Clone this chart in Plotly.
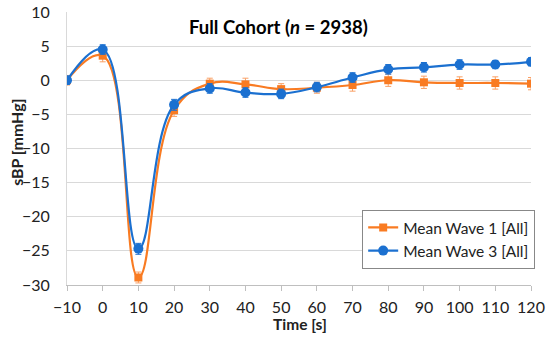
import plotly.graph_objects as go

# time points [s]
time_s = [-10, 0, 10, 20, 30, 40, 50, 60, 70, 80, 90, 100, 110, 120]

# Mean Wave 1 [All]
wave1 = [0.0, 3.6, -28.9, -4.4, -0.5, -0.6, -1.3, -1.1, -0.7, 0.0, -0.3, -0.4, -0.4, -0.5]
wave1_err = [0.7, 0.9, 0.8, 0.9, 0.8, 0.9, 0.8, 0.8, 0.9, 0.9, 0.9, 0.9, 0.9, 0.9]

# Mean Wave 3 [All]
wave3 = [0.0, 4.5, -24.7, -3.6, -1.2, -1.8, -2.0, -1.0, 0.4, 1.6, 1.9, 2.3, 2.3, 2.7]
wave3_err = [0.6, 0.7, 0.8, 0.8, 0.7, 0.7, 0.7, 0.7, 0.7, 0.7, 0.7, 0.7, 0.6, 0.6]

x_ticks = list(range(-10, 121, 10))
y_ticks = list(range(-30, 11, 5))

orange = "#F97B22"
blue = "#1B70D0"
font = "Lato, 'Open Sans', sans-serif"

fig = go.Figure()

fig.add_trace(go.Scatter(
    x=time_s, y=wave1,
    mode="lines+markers",
    name="Mean Wave 1 [All]",
    line=dict(color=orange, width=2.2, shape="spline", smoothing=1.2),
    marker=dict(symbol="square", size=8, color=orange),
    error_y=dict(type="data", array=wave1_err, color="#F9A066", thickness=1, width=3),
))

fig.add_trace(go.Scatter(
    x=time_s, y=wave3,
    mode="lines+markers",
    name="Mean Wave 3 [All]",
    line=dict(color=blue, width=2.2, shape="spline", smoothing=1.2),
    marker=dict(symbol="circle", size=10, color=blue),
    error_y=dict(type="data", array=wave3_err, color=blue, thickness=1, width=3),
))

# titel mit kursivem n
fig.add_annotation(
    text="<b>Full Cohort (<i>n</i> = 2938)</b>",
    xref="paper", yref="paper", x=0.455, y=0.945,
    xanchor="center", yanchor="middle",
    showarrow=False, font=dict(size=18.5, color="black", family=font),
)
# achsentitel als annotationen, damit die plotflaeche fest bleibt
fig.add_annotation(
    text="<b>Time [s]</b>", xref="paper", yref="paper", x=0.502, y=-0.143,
    xanchor="center", yanchor="middle",
    showarrow=False, font=dict(size=15.5, color="#222222"),
)
fig.add_annotation(
    text="<b>sBP [mmHg]</b>", xref="paper", yref="paper", x=-0.108, y=0.524,
    xanchor="center", yanchor="middle",
    textangle=-90, showarrow=False, font=dict(size=16, color="#222222"),
)

fig.update_layout(
    width=550, height=338,
    margin=dict(l=67, r=19, t=12, b=53),
    paper_bgcolor="white", plot_bgcolor="white",
    font=dict(family=font, size=16, color="#222222"),
    showlegend=True,
    legend=dict(
        x=1.009, y=0.059, xanchor="right", yanchor="bottom",
        bgcolor="white", bordercolor="#888888", borderwidth=1,
        font=dict(size=15.5, color="#222222"),
        tracegroupgap=6,
    ),
    xaxis=dict(
        range=[-10, 120], tickvals=x_ticks,
        ticktext=[str(v).replace("-", "\u2212") for v in x_ticks],
        showgrid=False, zeroline=False, automargin=False,
        showline=True, linecolor="#BFBFBF", linewidth=1,
        ticks="outside", tickcolor="#BFBFBF", ticklen=5,
        ticklabelstandoff=3, ticklabeloverflow="allow",
    ),
    yaxis=dict(
        range=[-30, 10], tickvals=y_ticks,
        ticktext=[str(v).replace("-", "\u2212") for v in y_ticks],
        showgrid=True, gridcolor="#D9D9D9", gridwidth=1, zeroline=False,
        automargin=False,
        showline=True, linecolor="#D9D9D9", linewidth=1,
        ticks="", ticklabelstandoff=13, ticklabeloverflow="allow",
    ),
)

# body-rand der seite entfernen, damit die figur genau ins fenster passt
fig.write_html("out.html", config={"displayModeBar": False},
               post_script="document.body.style.margin='0';")
